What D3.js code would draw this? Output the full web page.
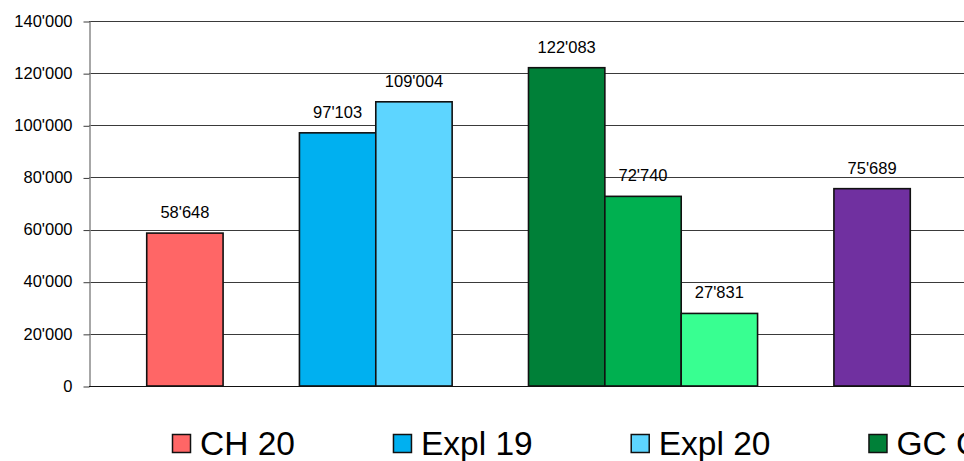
<!DOCTYPE html>
<html>
<head>
<meta charset="utf-8">
<script src="https://cdn.jsdelivr.net/npm/d3@7"></script>
<style>
  body { margin: 0; background: #fff; }
  svg { display: block; font-family: "Liberation Sans", Arial, sans-serif; }
</style>
</head>
<body>
<div id="chart"></div>
<script>
// series in plot order, "" marks an empty spacer slot
const seriesNames = ["CH 20", "", "Expl 19", "Expl 20", "", "GC C 18", "GC C 19", "GC C 20", "", "DR 20"];
const seriesValues = [58648, null, 97103, 109004, null, 122083, 72740, 27831, null, 75689];
const seriesColors = ["#ff6666", null, "#00b0f0", "#5dd5ff", null, "#008038", "#00b050", "#38ff91", null, "#7030a0"];
const yTicks = [0, 20000, 40000, 60000, 80000, 100000, 120000, 140000];

const svgWidth = 964;
const svgHeight = 461;
const margin = { top: 21, right: -4, bottom: 75, left: 89 };

const fmt = d3.formatLocale({ decimal: ".", thousands: "'", grouping: [3], currency: ["", ""] }).format(",");

const svg = d3
  .select("#chart")
  .append("svg")
  .attr("width", svgWidth)
  .attr("height", svgHeight);

const x = d3
  .scaleBand()
  .domain(d3.range(seriesNames.length))
  .range([margin.left, svgWidth - margin.right])
  .paddingInner(0)
  .paddingOuter(0.756);

const y = d3
  .scaleLinear()
  .domain([0, 140000])
  .range([svgHeight - margin.bottom, margin.top]);

// gridlines
svg
  .append("g")
  .selectAll("line")
  .data(yTicks.filter((d) => d > 0))
  .join("line")
  .attr("x1", margin.left)
  .attr("x2", svgWidth)
  .attr("y1", (d) => Math.round(y(d)) + 0.5)
  .attr("y2", (d) => Math.round(y(d)) + 0.5)
  .attr("stroke", "#3a3a3a")
  .attr("stroke-width", 1);

// y axis
const yAxis = svg
  .append("g")
  .attr("transform", `translate(${margin.left + 0.5},0)`)
  .call(d3.axisLeft(y).tickValues(yTicks).tickFormat(fmt).tickSizeInner(6).tickSizeOuter(0).tickPadding(11));
yAxis.select(".domain").attr("stroke", "#8a8a8a").attr("stroke-width", 1.5);
yAxis.selectAll(".tick line").attr("stroke", "#3a3a3a").attr("transform", "translate(0,0.5)");
yAxis.selectAll(".tick text").attr("font-size", 16.5).attr("fill", "#000").attr("font-family", "Liberation Sans, Arial, sans-serif");

const barData = seriesNames
  .map((name, i) => ({ name, value: seriesValues[i], color: seriesColors[i], index: i }))
  .filter((d) => d.value != null);

// bars
svg
  .append("g")
  .selectAll("rect")
  .data(barData)
  .join("rect")
  .attr("x", (d) => x(d.index))
  .attr("width", x.bandwidth())
  .attr("y", (d) => y(d.value))
  .attr("height", (d) => y(0) - y(d.value))
  .attr("fill", (d) => d.color)
  .attr("stroke", "#111")
  .attr("stroke-width", 1.6);

// baseline
svg
  .append("line")
  .attr("x1", margin.left)
  .attr("x2", svgWidth)
  .attr("y1", Math.round(y(0)) + 0.5)
  .attr("y2", Math.round(y(0)) + 0.5)
  .attr("stroke", "#111");

// value labels
svg
  .append("g")
  .selectAll("text")
  .data(barData)
  .join("text")
  .attr("x", (d) => x(d.index) + x.bandwidth() / 2)
  .attr("y", (d) => y(d.value) - 15)
  .attr("text-anchor", "middle")
  .attr("font-size", 16.5)
  .attr("fill", "#000")
  .text((d) => fmt(d.value));

// legend, laid out one item after another (runs off the right edge like the original)
const legend = svg.append("g").attr("transform", "translate(0,443)");
let lx = 172;
barData.forEach((d) => {
  const item = legend.append("g").attr("transform", `translate(${lx},0)`);
  item
    .append("rect")
    .attr("x", 0.5)
    .attr("y", -8.5)
    .attr("width", 18)
    .attr("height", 18)
    .attr("fill", d.color)
    .attr("stroke", "#111")
    .attr("stroke-width", 1.5);
  const t = item
    .append("text")
    .attr("x", 28)
    .attr("y", 12)
    .attr("font-size", 33.5)
    .attr("fill", "#000")
    .text(d.name);
  lx += 28 + t.node().getComputedTextLength() + 98;
});
</script>
</body>
</html>
